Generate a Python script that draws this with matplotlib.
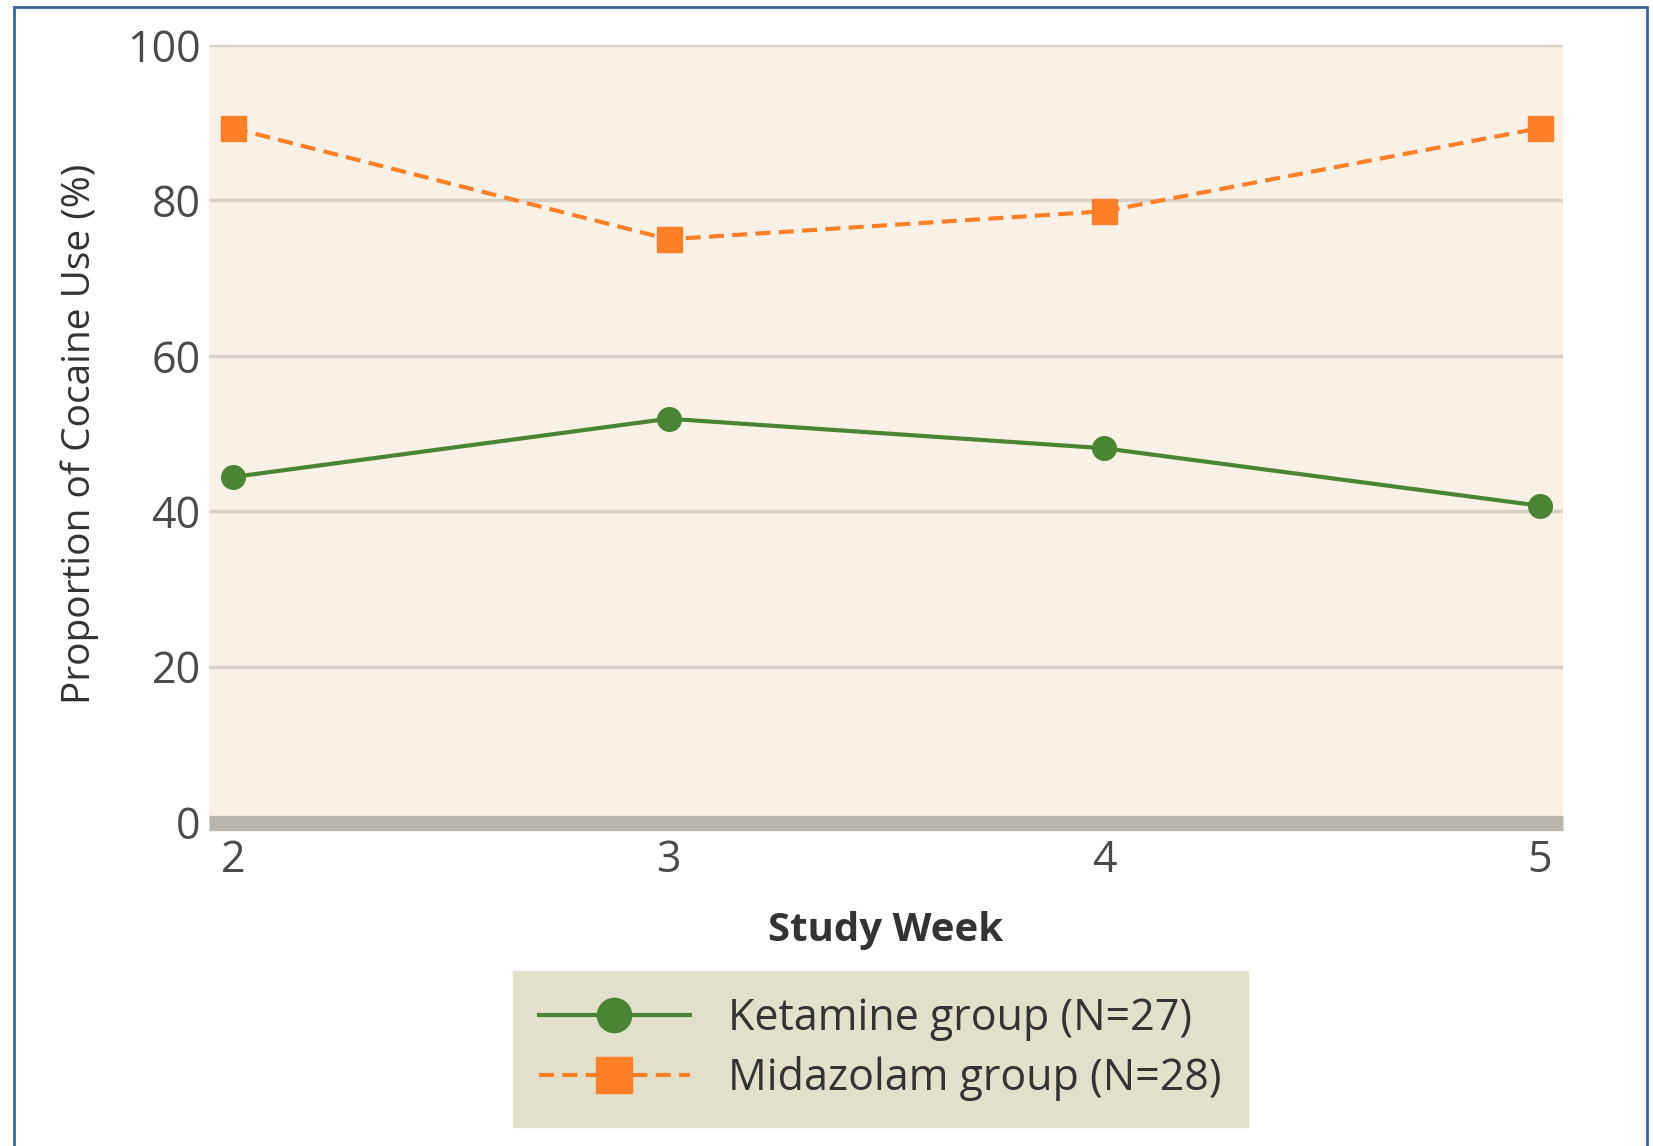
import matplotlib
matplotlib.use('Agg')
import matplotlib.pyplot as plt
import matplotlib.patches as patches

# ---- data ----
weeks = [2, 3, 4, 5]
ketamine = [44.4, 51.9, 48.1, 40.7]
midazolam = [89.3, 75.0, 78.6, 89.3]
ketamine_label = 'Ketamine group (N=27)'
midazolam_label = 'Midazolam group (N=28)'
yticks = [0, 20, 40, 60, 80, 100]

green = '#4a8533'
orange = '#fd7f28'

plt.rcParams['font.family'] = ['Open Sans', 'DejaVu Sans']

W, H = 1653, 1146
fig = plt.figure(figsize=(W / 100, H / 100), dpi=100)

# blue outer frame (runs past the bottom edge)
frame = patches.Rectangle((14 / W, -0.05), (1647 - 14) / W, 1 - 7 / H + 0.05,
                          transform=fig.transFigure, fill=False,
                          edgecolor='#3a669a', linewidth=2)
fig.add_artist(frame)

left, right = 209 / W, 1563 / W
bottom, top = 1 - 822 / H, 1 - 45 / H
ax = fig.add_axes([left, bottom, right - left, top - bottom])
ax.set_facecolor('#f9f1e6')
ax.set_xlim(1.945, 5.053)
ax.set_ylim(0, 100)

for s in ax.spines.values():
    s.set_visible(False)

# gridlines
for y in yticks[1:]:
    ax.axhline(y, color='#d6d0c8', linewidth=2.5, zorder=1,
               solid_capstyle='butt')
ax.axhline(-0.1, color='#b8b5ae', linewidth=11, zorder=1, clip_on=False,
           solid_capstyle='butt')

ax.plot(weeks, ketamine, color=green, linewidth=3, marker='o',
        markersize=17, label=ketamine_label, zorder=3)
ax.plot(weeks, midazolam, color=orange, linewidth=3, linestyle=(0, (3.6, 2.0)),
        marker='s', markersize=18, label=midazolam_label, zorder=3)

ax.set_yticks(yticks)
ax.set_xticks(weeks)
ax.tick_params(axis='both', length=0, labelsize=31, colors='#4a4a4a')
ax.tick_params(axis='y', pad=6)
ax.tick_params(axis='x', pad=12)

ax.set_ylabel('Proportion of Cocaine Use (%)', fontsize=28, color='#333333', labelpad=20)
ax.set_xlabel('Study Week', fontsize=29, fontweight='bold', color='#333333', labelpad=20)

leg = ax.legend(loc='upper left', bbox_to_anchor=(513 / W, 1 - 971 / H),
                bbox_transform=fig.transFigure, borderaxespad=0,
                fontsize=31, frameon=True, fancybox=False, framealpha=1,
                facecolor='#e2dfca', edgecolor='#e2dfca',
                handlelength=3.5, handletextpad=0.9, borderpad=0.6,
                labelspacing=0.35, labelcolor='#333333', markerscale=1.45)

fig.savefig('out.png', dpi=100)
